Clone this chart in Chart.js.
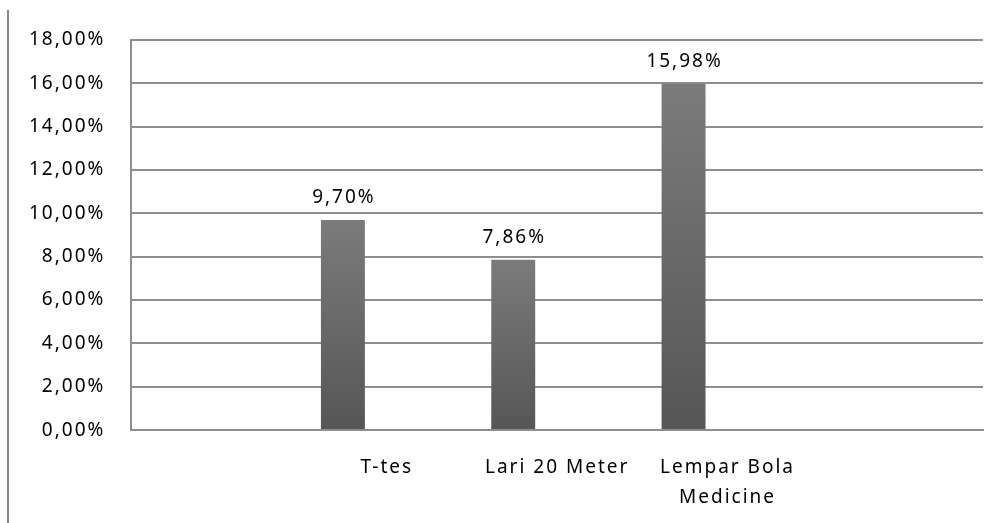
<!DOCTYPE html>
<html>
<head>
<meta charset="utf-8">
<script src="https://cdn.jsdelivr.net/npm/chart.js@4.4.1/dist/chart.umd.min.js"></script>
<style>
    html, body { margin: 0; padding: 0; background: #fff; }
    #wrap { position: relative; width: 1002px; height: 523px; }
</style>
</head>
<body>
<div id="wrap"><canvas id="chart"></canvas></div>
<script>
// data
const categories = ['', 'T-tes', 'Lari 20 Meter', ['Lempar Bola', 'Medicine'], ''];
const values = [null, 9.70, 7.86, 15.98, null];
const emptySeries = [null, null, null, null, null];
const yTicks = { min: 0, max: 18, step: 2 };

const fontFamily = '"Noto Sans", "Open Sans", sans-serif';
const gridColor = '#8e8e8e';
const textColor = '#000000';

function pct(v) {
    return v.toFixed(2).replace('.', ',') + '%';
}

function barFill(c) {
    const chart = c.chart;
    if (!chart.chartArea || c.raw == null) return '#5a5a5a';
    const y = chart.scales.y;
    const top = y.getPixelForValue(c.raw);
    const base = y.getPixelForValue(0);
    const g = chart.ctx.createLinearGradient(0, top, 0, base);
    g.addColorStop(0, '#7b7b7b');
    g.addColorStop(1, '#565656');
    return g;
}

// Excel-ish wide letter spacing
const spacingPlugin = {
    id: 'spacing',
    beforeUpdate(chart) { chart.ctx.letterSpacing = '2px'; },
    beforeDraw(chart) { chart.ctx.letterSpacing = '2px'; }
};

// frame line at left edge of the chart object
const framePlugin = {
    id: 'frame',
    beforeDraw(chart) {
        const ctx = chart.ctx;
        ctx.save();
        ctx.strokeStyle = '#8a8a8a';
        ctx.lineWidth = 2;
        ctx.beginPath();
        ctx.moveTo(8, 10);
        ctx.lineTo(8, chart.height);
        ctx.stroke();
        ctx.restore();
    }
};

const valueLabels = {
    id: 'valueLabels',
    afterDatasetsDraw(chart) {
        const ctx = chart.ctx;
        const meta = chart.getDatasetMeta(0);
        ctx.save();
        ctx.letterSpacing = '2px';
        ctx.font = '19px ' + fontFamily;
        ctx.fillStyle = textColor;
        ctx.textAlign = 'center';
        ctx.textBaseline = 'alphabetic';
        meta.data.forEach((bar, i) => {
            const v = values[i];
            if (v == null) return;
            ctx.fillText(pct(v), bar.x + 1, bar.y - 17);
        });
        ctx.restore();
    }
};

new Chart(document.getElementById('chart'), {
    type: 'bar',
    data: {
        labels: categories,
        datasets: [
            { data: values, backgroundColor: barFill },
            { data: emptySeries },
            { data: emptySeries }
        ]
    },
    options: {
        responsive: true,
        maintainAspectRatio: false,
        animation: false,
        categoryPercentage: 0.774,
        barPercentage: 1,
        layout: { padding: { left: 3, right: 19, top: 40, bottom: -12 } },
        plugins: {
            legend: { display: false },
            tooltip: { enabled: false }
        },
        scales: {
            x: {
                grid: { display: false, drawTicks: false },
                border: { display: true, color: gridColor, width: 2 },
                ticks: {
                    color: textColor,
                    padding: 23,
                    maxRotation: 0,
                    autoSkip: false,
                    font: { family: fontFamily, size: 19, lineHeight: 1.55 }
                }
            },
            y: {
                min: yTicks.min,
                max: yTicks.max,
                grid: { color: gridColor, lineWidth: 2, drawTicks: false },
                border: { display: true, color: gridColor, width: 2 },
                ticks: {
                    stepSize: yTicks.step,
                    color: textColor,
                    padding: 26,
                    font: { family: fontFamily, size: 19 },
                    callback: v => pct(v)
                }
            }
        }
    },
    plugins: [spacingPlugin, framePlugin, valueLabels]
});
</script>
</body>
</html>
